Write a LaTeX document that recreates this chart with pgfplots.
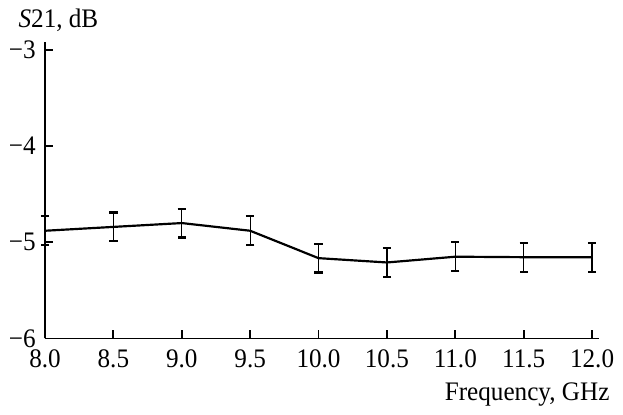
\documentclass[border=0pt]{standalone}
\usepackage{fontspec}
\setmainfont{Liberation Serif}[FakeStretch=0.94]
\usepackage{pgfplots}
\pgfplotsset{compat=1.18}

\begin{document}
\fontsize{13.5}{16}\selectfont
\begin{tikzpicture}
\begin{axis}[
  scale only axis,
  width=279.5pt, height=149.4pt,
  xmin=8, xmax=12.05,
  ymin=-6, ymax=-2.92,
  axis x line*=bottom,
  axis y line*=left,
  axis line style={line width=0.9pt},
  tick align=inside,
  major tick length=4.2pt,
  tick style={line width=0.9pt, black},
  xtick={8,8.5,9,9.5,10,10.5,11,11.5,12},
  xticklabels={8.0,8.5,9.0,9.5,10.0,10.5,11.0,11.5,12.0},
  ytick={-6,-5,-4,-3},
  yticklabels={−6,−5,−4,−3},
  xticklabel style={yshift=-1pt},
  xlabel={Frequency, GHz},
  ylabel={\textit{S}21, dB},
  xlabel style={at={(rel axis cs:1,0)}, anchor=north east, yshift=-17.5pt, xshift=10pt},
  ylabel style={rotate=-90, at={(rel axis cs:0,1)}, anchor=base west, xshift=-18pt, yshift=7.5pt},
  clip=false,
]
\addplot[black, line width=1.1pt, mark=none,
  error bars/.cd, y dir=both, y explicit,
  error bar style={line width=0.6pt},
  error mark options={rotate=90, line width=1.1pt, mark size=2.1pt}]
  coordinates {
  (8.0,-4.88)  +- (0,0.15)
  (8.5,-4.84)  +- (0,0.15)
  (9.0,-4.80)  +- (0,0.15)
  (9.5,-4.88)  +- (0,0.15)
  (10.0,-5.165) +- (0,0.15)
  (10.5,-5.21) +- (0,0.15)
  (11.0,-5.15) +- (0,0.15)
  (11.5,-5.155) +- (0,0.15)
  (12.0,-5.155) +- (0,0.15)
  };
\end{axis}
\end{tikzpicture}
\end{document}
